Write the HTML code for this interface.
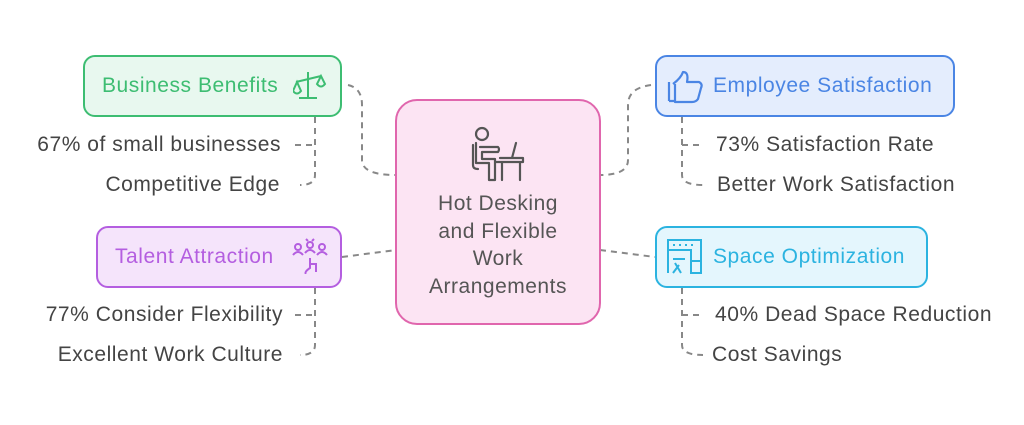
<!DOCTYPE html>
<html><head><meta charset="utf-8"><style>
body{margin:0;width:1024px;height:425px;background:#fff;overflow:hidden;position:relative;font-family:"Liberation Sans",sans-serif}
.b{position:absolute;box-sizing:border-box;border-radius:12px;border:2px solid}
.t{position:absolute;font-size:21px;letter-spacing:0.55px;color:#444;white-space:nowrap;line-height:24px}
</style></head><body>
<svg width="1024" height="425" style="position:absolute;left:0;top:0">
<g fill="none" stroke="#888" stroke-width="2" stroke-dasharray="6,5">
<path d="M348 85 Q362 88 362 105 L362 160 Q362 175 396 175"/>
<path d="M342 257 L396 250"/>
<path d="M651 85 Q628 88 628 105 L628 160 Q628 175 600 175"/>
<path d="M600 250 L655 257"/>
<path d="M315 117 L315 175 Q315 185 300 185"/>
<path d="M295 145 L315 145"/>
<path d="M315 288 L315 345 Q315 355 300 355"/>
<path d="M295 315 L315 315"/>
<path d="M682 117 L682 175 Q682 185 703 185"/>
<path d="M682 145 L702 145"/>
<path d="M682 288 L682 345 Q682 355 703 355"/>
<path d="M682 315 L702 315"/>
</g>
</svg>
<div class="b" style="left:395px;top:99px;width:206px;height:226px;background:#fce4f3;border-color:#e066ad;border-radius:22px"></div>
<svg width="60" height="60" style="position:absolute;left:468px;top:125px" fill="none" stroke="#555" stroke-width="2.2" stroke-linecap="round" stroke-linejoin="round">
<circle cx="14" cy="9" r="6"/>
<path d="M8 18 L8 38 L21 38 L21 55 L27 55 L27 34 L14 34 L14 27 L30 27 Q32 24 30 22 L12 22"/>
<path d="M5 20 L5 40 Q5 44 10 44"/>
<path d="M28 37 L55 37 L55 33 L32 33 M34 37 L34 55 M52 37 L52 55 M44 33 L48 18"/>
</svg>
<div class="t" style="left:396px;width:204px;top:190px;text-align:center;line-height:27.5px;color:#555;letter-spacing:0.5px">Hot Desking<br>and Flexible<br>Work<br>Arrangements</div>

<div class="b" style="left:83px;top:55px;width:259px;height:62px;background:#e8f8ef;border-color:#3dbd72"></div>
<div class="t" style="left:102px;top:74px;color:#3dbd72">Business Benefits</div>
<svg width="36" height="32" style="position:absolute;left:293px;top:70px" fill="none" stroke="#3dbd72" stroke-width="2"><path d="M15 2 L15 28 M6 28 L24 28 M3 12 L28 6 M4 12 L0 21 Q4 26 8 21 Z M28 6 L24 14 Q28 19 32 14 Z"/></svg>

<div class="b" style="left:96px;top:226px;width:246px;height:62px;background:#f5e4fb;border-color:#b45ee0"></div>
<div class="t" style="left:115px;top:245px;color:#b45ee0">Talent Attraction</div>
<svg width="36" height="36" style="position:absolute;left:292px;top:238px" fill="none" stroke="#b45ee0" stroke-width="2"><circle cx="6" cy="9" r="3"/><circle cx="18" cy="7" r="3"/><circle cx="30" cy="9" r="3"/><path d="M1 17 Q6 11 11 17 M13 15 Q18 9 23 15 M25 17 Q30 11 35 17 M18 20 L18 30 Q12 34 14 36 M18 26 L24 26 L24 34 M14 1 L16 3 M22 1 L20 3"/></svg>

<div class="b" style="left:655px;top:55px;width:300px;height:62px;background:#e4edfd;border-color:#4a85e4"></div>
<div class="t" style="left:713px;top:74px;color:#4a85e4">Employee Satisfaction</div>
<svg width="38" height="34" style="position:absolute;left:667px;top:70px" fill="none" stroke="#4a85e4" stroke-width="2.2" stroke-linejoin="round"><path d="M2 12 L2 31 M2 31 L8 31 M6 14 Q14 8 16 2 Q22 2 20 12 L32 12 Q36 14 34 18 L31 29 Q29 32 25 32 L8 32 L8 14"/></svg>

<div class="b" style="left:655px;top:226px;width:273px;height:62px;background:#e4f6fd;border-color:#2bb3e0"></div>
<div class="t" style="left:713px;top:245px;color:#2bb3e0">Space Optimization</div>
<svg width="36" height="36" style="position:absolute;left:667px;top:239px" fill="none" stroke="#2bb3e0" stroke-width="2"><path d="M1 1 L34 1 L34 34 L24 34 L24 11 L1 11 Z M1 11 L1 34 M6 20 L18 20 M6 34 L12 26 M8 24 L14 34 M24 22 L34 22 M7 5 L7 7 M13 5 L13 7 M19 5 L19 7 M25 5 L25 7"/></svg>

<div class="t" style="left:0;width:281px;text-align:right;top:133px">67% of small businesses</div>
<div class="t" style="left:0;width:280px;text-align:right;top:173px">Competitive Edge</div>
<div class="t" style="left:0;width:283px;text-align:right;top:303px">77% Consider Flexibility</div>
<div class="t" style="left:0;width:283px;text-align:right;top:343px">Excellent Work Culture</div>
<div class="t" style="left:716px;top:133px">73% Satisfaction Rate</div>
<div class="t" style="left:717px;top:173px">Better Work Satisfaction</div>
<div class="t" style="left:715px;top:303px">40% Dead Space Reduction</div>
<div class="t" style="left:712px;top:343px">Cost Savings</div>
</body></html>
